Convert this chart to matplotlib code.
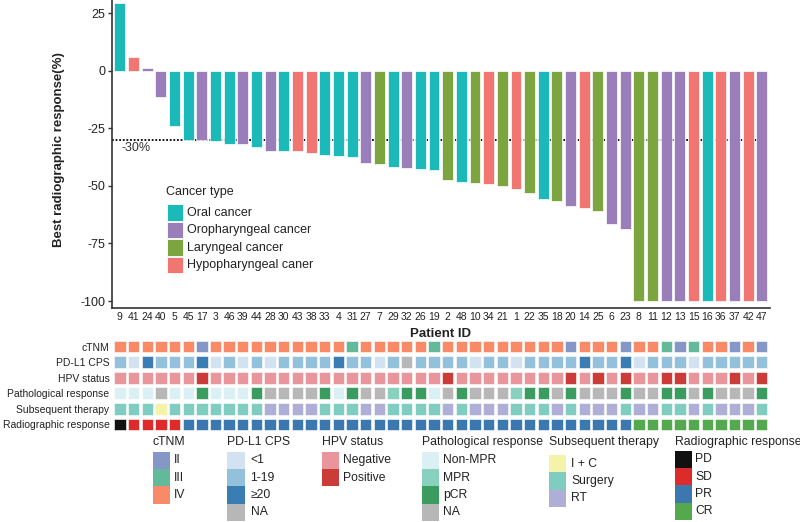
import matplotlib
matplotlib.use('Agg')
import matplotlib.pyplot as plt
from matplotlib.patches import Rectangle

plt.rcParams['font.family'] = ['Liberation Sans', 'DejaVu Sans']

# ---------------- data ----------------
patient_ids = [9, 41, 24, 40, 5, 45, 17, 3, 46, 39, 44, 28, 30, 43, 38, 33, 4, 31, 27, 7,
               29, 32, 26, 19, 2, 48, 10, 34, 21, 1, 22, 35, 18, 20, 14, 25, 6, 23, 8, 11,
               12, 13, 15, 16, 36, 37, 42, 47]
response = [29.2, 5.8, 1.3, -11.6, -24.0, -30.0, -30.0, -30.7, -31.7, -32.0, -33.0, -35.0,
            -35.0, -35.0, -35.6, -36.5, -37.0, -37.6, -40.2, -40.4, -41.8, -42.2, -42.5, -43.2,
            -47.3, -48.3, -48.7, -49.0, -50.0, -51.5, -53.0, -55.7, -56.7, -58.9, -59.5, -60.9,
            -66.4, -68.9, -100, -100, -100, -100, -100, -100, -100, -100, -100, -100]
cancer_type = ['Oral', 'Hypo', 'Oro', 'Oro', 'Oral', 'Oral', 'Oro', 'Oral', 'Oral', 'Oro',
               'Oral', 'Oro', 'Oral', 'Hypo', 'Hypo', 'Oral', 'Oral', 'Oral', 'Oro', 'Lar',
               'Oral', 'Oro', 'Oral', 'Oral', 'Lar', 'Oral', 'Lar', 'Hypo', 'Lar', 'Hypo',
               'Lar', 'Oral', 'Lar', 'Oro', 'Hypo', 'Lar', 'Oro', 'Oro', 'Lar', 'Lar',
               'Oro', 'Oro', 'Hypo', 'Oral', 'Hypo', 'Oro', 'Hypo', 'Oro']
ctnm = ['IV', 'IV', 'IV', 'IV', 'IV', 'IV', 'II', 'IV', 'IV', 'IV',
        'IV', 'IV', 'IV', 'IV', 'IV', 'IV', 'IV', 'III', 'IV', 'IV',
        'IV', 'IV', 'IV', 'III', 'IV', 'IV', 'IV', 'IV', 'IV', 'IV',
        'IV', 'IV', 'IV', 'II', 'IV', 'IV', 'IV', 'II', 'IV', 'IV',
        'III', 'II', 'III', 'IV', 'IV', 'II', 'IV', 'II']
pdl1 = ['1-19', '<1', '≥20', '1-19', '1-19', '1-19', '≥20', '<1', '1-19', '<1',
        '1-19', '<1', '1-19', '1-19', '1-19', '1-19', '≥20', '1-19', '1-19', '<1',
        '1-19', 'NA', '1-19', '1-19', '1-19', '1-19', '<1', '1-19', '1-19', '<1',
        '1-19', '1-19', '1-19', '1-19', '≥20', '1-19', '1-19', '≥20', '<1', '1-19',
        '1-19', '1-19', '<1', '1-19', '1-19', '1-19', '1-19', '1-19']
hpv = ['Neg', 'Neg', 'Neg', 'Neg', 'Neg', 'Neg', 'Pos', 'Neg', 'Neg', 'Neg',
       'Neg', 'Neg', 'Neg', 'Neg', 'Neg', 'Neg', 'Neg', 'Neg', 'Neg', 'Neg',
       'Neg', 'Neg', 'Neg', 'Neg', 'Pos', 'Neg', 'Neg', 'Neg', 'Neg', 'Neg',
       'Neg', 'Neg', 'Neg', 'Pos', 'Neg', 'Pos', 'Neg', 'Pos', 'Neg', 'Neg',
       'Pos', 'Pos', 'Neg', 'Neg', 'Neg', 'Pos', 'Neg', 'Pos']
path_resp = ['Non', 'Non', 'Non', 'NA', 'Non', 'Non', 'pCR', 'Non', 'Non', 'Non',
             'pCR', 'NA', 'NA', 'NA', 'NA', 'pCR', 'Non', 'pCR', 'NA', 'NA',
             'MPR', 'pCR', 'pCR', 'Non', 'NA', 'pCR', 'NA', 'NA', 'NA', 'MPR',
             'pCR', 'pCR', 'NA', 'pCR', 'NA', 'NA', 'NA', 'pCR', 'NA', 'NA',
             'pCR', 'pCR', 'NA', 'pCR', 'NA', 'NA', 'NA', 'pCR']
subsequent = ['S', 'S', 'S', 'IC', 'S', 'S', 'S', 'S', 'S', 'S',
              'S', 'RT', 'RT', 'RT', 'RT', 'S', 'S', 'S', 'RT', 'RT',
              'S', 'S', 'S', 'S', 'RT', 'S', 'RT', 'RT', 'RT', 'S',
              'S', 'S', 'RT', 'S', 'RT', 'RT', 'RT', 'S', 'RT', 'RT',
              'S', 'S', 'RT', 'S', 'RT', 'RT', 'RT', 'S']
radio = ['PD', 'SD', 'SD', 'SD', 'SD', 'PR', 'PR', 'PR', 'PR', 'PR',
         'PR', 'PR', 'PR', 'PR', 'PR', 'PR', 'PR', 'PR', 'PR', 'PR',
         'PR', 'PR', 'PR', 'PR', 'PR', 'PR', 'PR', 'PR', 'PR', 'PR',
         'PR', 'PR', 'PR', 'PR', 'PR', 'PR', 'PR', 'PR', 'CR', 'CR',
         'CR', 'CR', 'CR', 'CR', 'CR', 'CR', 'CR', 'CR']

row_labels = ['cTNM', 'PD-L1 CPS', 'HPV status', 'Pathological response',
              'Subsequent therapy', 'Radiographic response']
y_ticks = [25, 0, -25, -50, -75, -100]
threshold = -30

# ---------------- styles ----------------
cancer_colors = {'Oral': '#1BB9B7', 'Oro': '#9A7EB9', 'Lar': '#7CA53F', 'Hypo': '#F17672'}
cancer_names = {'Oral': 'Oral cancer', 'Oro': 'Oropharyngeal cancer',
                'Lar': 'Laryngeal cancer', 'Hypo': 'Hypopharyngeal caner'}
ctnm_colors = {'II': '#8497C6', 'III': '#62BA9B', 'IV': '#F88A68'}
pdl1_colors = {'<1': '#D2E2F1', '1-19': '#93C0DB', '≥20': '#3A7DB5', 'NA': '#B7B7B7'}
hpv_colors = {'Neg': '#E8969B', 'Pos': '#CB3B38'}
path_colors = {'Non': '#DAF0F4', 'MPR': '#88D1BF', 'pCR': '#3A9C5E', 'NA': '#B7B7B7'}
subs_colors = {'IC': '#F5F3A8', 'S': '#7ECDC0', 'RT': '#AFAED6'}
radio_colors = {'PD': '#111111', 'SD': '#DD2A2A', 'PR': '#3C78B0', 'CR': '#54A84E'}

txt = '#222222'
W, H = 800, 522
fig = plt.figure(figsize=(W / 100, H / 100), dpi=100)


def fx(px):
    return px / W


def fy(py):
    return 1 - py / H


x = list(range(len(patient_ids)))

# ---------------- waterfall ----------------
ax = fig.add_axes([fx(111.7), fy(308), fx(770) - fx(111.7), fy(0) - fy(308)])
ax.hlines(threshold, -0.6, 47, colors='black', linestyles=(0, (1, 1)), lw=1.3, zorder=1)
ax.bar(x, response, width=0.8, color=[cancer_colors[c] for c in cancer_type],
       edgecolor='white', linewidth=0.5, zorder=2)
ax.set_xlim(-0.6, 47.6)
ax.set_ylim(-103, 30.7)
ax.set_yticks(y_ticks)
ax.set_yticklabels([f'{v:g}' for v in y_ticks], fontsize=9, color=txt)
ax.set_xticks(x)
ax.set_xticklabels([str(p) for p in patient_ids], fontsize=7.5, color=txt)
ax.tick_params(axis='x', length=0, pad=3)
ax.tick_params(axis='y', length=3, width=1, color='#333333', pad=1.5)
for s in ['top', 'right']:
    ax.spines[s].set_visible(False)
for s in ['left', 'bottom']:
    ax.spines[s].set_color('#333333')
    ax.spines[s].set_linewidth(1.2)
ax.set_xlabel('Patient ID', fontsize=9.5, fontweight='bold', color=txt, labelpad=4)
ax.set_ylabel('Best radiographic response(%)', fontsize=9.5, fontweight='bold', color=txt)
ax.yaxis.set_label_coords(-0.071, 0.513)
ax.text(0.13, -33.5, '-30%', fontsize=9, color='#333333', ha='left', va='center')

# cancer type legend (drawn in figure pixels)
fig.text(fx(166), fy(191.7), 'Cancer type', fontsize=9, color=txt, ha='left', va='center')
for k, key in enumerate(['Oral', 'Oro', 'Lar', 'Hypo']):
    top = 204 + k * 17.6
    fig.add_artist(Rectangle((fx(166.7), fy(top + 16.5)), 16.5 / W, 16.5 / H,
                             transform=fig.transFigure, facecolor=cancer_colors[key],
                             edgecolor='white', linewidth=0.6))
    fig.text(fx(187), fy(top + 8.5), cancer_names[key], fontsize=9, color=txt,
             ha='left', va='center')

# ---------------- annotation tiles ----------------
hx = fig.add_axes([fx(111.7), fy(432.1), fx(770) - fx(111.7), fy(338.9) - fy(432.1)])
rows = [(ctnm, ctnm_colors), (pdl1, pdl1_colors), (hpv, hpv_colors),
        (path_resp, path_colors), (subsequent, subs_colors), (radio, radio_colors)]
for r, (vals, cmap) in enumerate(rows):
    hx.bar(x, 0.75, bottom=r - 0.375, width=0.83, color=[cmap[v] for v in vals],
           edgecolor='white', linewidth=0.4)
hx.set_xlim(-0.6, 47.6)
hx.set_ylim(5.5, -0.5)
hx.set_xticks([])
hx.set_yticks(range(len(row_labels)))
hx.set_yticklabels(row_labels, fontsize=7.5, color=txt)
hx.tick_params(axis='y', length=0, pad=1.5)
for s in hx.spines.values():
    s.set_visible(False)

# ---------------- bottom legends ----------------
KEY = 17.3


def add_legend(title, labels, cmap, keys, xpx, key_top, label_gap):
    fig.text(fx(xpx), fy(442), title, fontsize=8.8, color=txt, ha='left', va='center')
    for k, (key, lab) in enumerate(zip(keys, labels)):
        top = key_top + k * KEY
        fig.add_artist(Rectangle((fx(xpx), fy(top + KEY)), KEY / W, KEY / H,
                                 transform=fig.transFigure, facecolor=cmap[key],
                                 edgecolor='none'))
        fig.text(fx(xpx + KEY + label_gap), fy(top + KEY / 2), lab, fontsize=8.7,
                 color=txt, ha='left', va='center')


add_legend('cTNM', ['II', 'III', 'IV'], ctnm_colors, ['II', 'III', 'IV'], 152.7, 451.7, 4)
add_legend('PD-L1 CPS', ['<1', '1-19', '≥20', 'NA'], pdl1_colors,
           ['<1', '1-19', '≥20', 'NA'], 227.3, 451.7, 6)
add_legend('HPV status', ['Negative', 'Positive'], hpv_colors, ['Neg', 'Pos'],
           321.7, 451.7, 3.7)
add_legend('Pathological response', ['Non-MPR', 'MPR', 'pCR', 'NA'], path_colors,
           ['Non', 'MPR', 'pCR', 'NA'], 421.7, 451.7, 4.3)
add_legend('Subsequent therapy', ['I + C', 'Surgery', 'RT'], subs_colors,
           ['IC', 'S', 'RT'], 549, 455, 5)
add_legend('Radiographic response', ['PD', 'SD', 'PR', 'CR'], radio_colors,
           ['PD', 'SD', 'PR', 'CR'], 675, 450.7, 2.7)

fig.savefig('out.png', dpi=100)
